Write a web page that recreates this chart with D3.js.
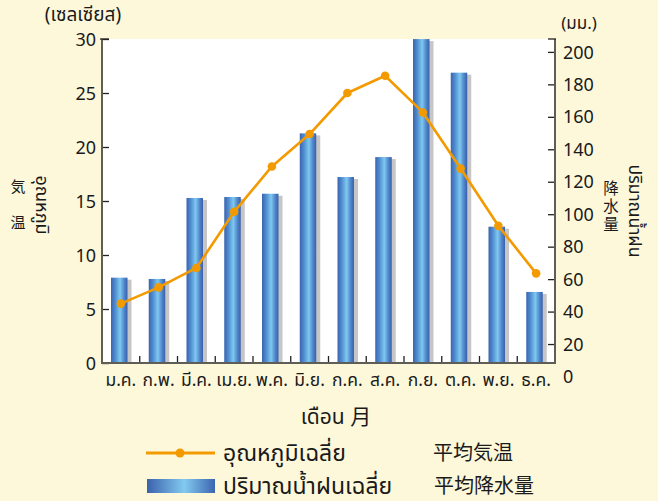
<!DOCTYPE html>
<html><head><meta charset="utf-8">
<script src="https://cdn.jsdelivr.net/npm/d3@7"></script>
<style>
html,body{margin:0;padding:0;background:#fdf8da;}
svg{display:block;}
text{font-family:"Noto Sans","Noto Sans Thai","Noto Sans CJK JP",sans-serif;fill:#1a1a1a;}
.cjk{font-family:"Noto Sans CJK JP",sans-serif;}
.vert{writing-mode:vertical-rl;text-orientation:upright;}
</style>
</head><body>
<svg id="chart" width="658" height="501"></svg>
<script>
const months = ["ม.ค.","ก.พ.","มี.ค.","เม.ย.","พ.ค.","มิ.ย.","ก.ค.","ส.ค.","ก.ย.","ต.ค.","พ.ย.","ธ.ค."];
const temperature = [5.5, 7.0, 8.8, 14.0, 18.2, 21.2, 25.0, 26.6, 23.2, 18.0, 12.7, 8.3];
const rainfall = [60.9, 60.1, 110.0, 110.6, 112.6, 149.8, 122.9, 135.2, 207.9, 187.2, 92.3, 52.1];
const tempTicks = [0, 5, 10, 15, 20, 25, 30];
const rainTicks = [0, 20, 40, 60, 80, 100, 120, 140, 160, 180, 200];

const svg = d3.select("#chart");
const L = 102, R = 555, T = 39, B = 363;
const orange = "#f39a00", axisCol = "#5e5e56";

const x = d3.scaleBand().domain(months).range([L, R]).padding(0);
const yT = d3.scaleLinear().domain([0, 30]).range([B, T]);
const yR = d3.scaleLinear().domain([0, 200]).range([376.5, 51.9]);

// gradient
const defs = svg.append("defs");
const g = defs.append("linearGradient").attr("id","barGrad").attr("x1","0").attr("x2","1").attr("y1","0").attr("y2","0");
g.append("stop").attr("offset","0%").attr("stop-color","#3a64b0");
g.append("stop").attr("offset","25%").attr("stop-color","#4f8ccf");
g.append("stop").attr("offset","55%").attr("stop-color","#7fc8f0");
g.append("stop").attr("offset","80%").attr("stop-color","#4f86cb");
g.append("stop").attr("offset","100%").attr("stop-color","#3a5fac");

// plot background
svg.append("rect").attr("x", L).attr("y", T).attr("width", R - L).attr("height", B - T).attr("fill", "#ffffff");

// bars
const bw = 16.5, boff = 9;
svg.append("g").selectAll("rect").data(rainfall).join("rect")
  .attr("x", (d,i) => x(months[i]) + boff + 4)
  .attr("y", d => Math.max(T, yR(d)) + 2)
  .attr("width", bw)
  .attr("height", d => B - Math.max(T, yR(d)) - 2)
  .attr("fill", "#c6c6c6");
svg.append("g").selectAll("rect").data(rainfall).join("rect")
  .attr("x", (d,i) => x(months[i]) + boff)
  .attr("y", d => Math.max(T, yR(d)))
  .attr("width", bw)
  .attr("height", d => B - Math.max(T, yR(d)))
  .attr("fill", "url(#barGrad)");

// temperature line
const line = d3.line().x((d,i) => x(months[i]) + x.bandwidth()/2).y(d => yT(d));
svg.append("path").datum(temperature).attr("d", line).attr("fill","none").attr("stroke", orange).attr("stroke-width", 2.6).attr("stroke-linejoin","round");
svg.append("g").selectAll("circle").data(temperature).join("circle")
  .attr("cx", (d,i) => x(months[i]) + x.bandwidth()/2)
  .attr("cy", d => yT(d)).attr("r", 4.3).attr("fill", orange);

// left axis
const la = svg.append("g").attr("transform", `translate(${L},0)`)
  .call(d3.axisLeft(yT).tickValues(tempTicks).tickSizeInner(-7).tickSizeOuter(0).tickPadding(6));
la.select(".domain").remove();
la.selectAll(".tick line").attr("stroke", "#222").attr("stroke-width", 1.3);
la.selectAll(".tick text").attr("font-size", 18).attr("fill", "#1a1a1a").attr("dy","0.34em");

// right axis
const ra = svg.append("g").attr("transform", `translate(${R},0)`)
  .call(d3.axisRight(yR).tickValues(rainTicks).tickSizeInner(-7).tickSizeOuter(0).tickPadding(8));
ra.select(".domain").remove();
ra.selectAll(".tick line").attr("stroke", "#222").attr("stroke-width", 1.3)
  .attr("display", d => (yR(d) > B || yR(d) < T) ? "none" : null);
ra.selectAll(".tick text").attr("font-size", 18).attr("fill", "#1a1a1a").attr("dy","0.34em");

// bottom axis: ticks at band boundaries
const bounds = months.slice(1).map(m => x(m));
svg.append("g").selectAll("line").data(bounds).join("line")
  .attr("x1", d => d).attr("x2", d => d).attr("y1", B).attr("y2", B - 7)
  .attr("stroke", "#222").attr("stroke-width", 1.3);
svg.append("g").selectAll("text").data(months).join("text")
  .attr("x", d => x(d) + x.bandwidth()/2).attr("y", 386)
  .attr("text-anchor","middle").attr("font-size", 17.5).text(d => d);

// axis lines
svg.append("line").attr("x1", L).attr("x2", L).attr("y1", T).attr("y2", B + 1).attr("stroke", axisCol).attr("stroke-width", 2);
svg.append("line").attr("x1", R).attr("x2", R).attr("y1", T).attr("y2", B + 1).attr("stroke", axisCol).attr("stroke-width", 2);
svg.append("line").attr("x1", L).attr("x2", R).attr("y1", B).attr("y2", B).attr("stroke", axisCol).attr("stroke-width", 2);
svg.append("line").attr("x1", L - 2).attr("x2", L + 7).attr("y1", T).attr("y2", T).attr("stroke", "#222").attr("stroke-width", 1.3);
svg.append("line").attr("x1", R - 7).attr("x2", R + 1).attr("y1", T).attr("y2", T).attr("stroke", "#222").attr("stroke-width", 1.3);

// unit labels
svg.append("text").attr("x", 83).attr("y", 21).attr("text-anchor","middle").attr("font-size", 19).text("(เซลเซียส)");
svg.append("text").attr("x", 579).attr("y", 29).attr("text-anchor","middle").attr("font-size", 17).text("(มม.)");

// left title
svg.append("text").attr("class","cjk vert").attr("x", 18).attr("y", 215).attr("text-anchor","middle")
  .attr("font-size", 15).attr("letter-spacing", 21).text("気温");
svg.append("text").attr("transform","translate(36,205) rotate(90)").attr("text-anchor","middle").attr("font-size", 18).text("อุณหภูมิ");

// right title
svg.append("text").attr("class","cjk vert").attr("x", 611).attr("y", 207.5).attr("text-anchor","middle")
  .attr("font-size", 15.5).attr("letter-spacing", 2.5).text("降水量");
svg.append("text").attr("transform","translate(629,211) rotate(90)").attr("text-anchor","middle").attr("font-size", 17.5).text("ปริมาณน้ำฝน");

// x title
svg.append("text").attr("x", 336).attr("y", 424).attr("text-anchor","middle").attr("font-size", 21).text("เดือน 月");

// legend
svg.append("line").attr("x1", 146).attr("x2", 215).attr("y1", 453).attr("y2", 453).attr("stroke", orange).attr("stroke-width", 3);
svg.append("circle").attr("cx", 180).attr("cy", 453).attr("r", 4.5).attr("fill", orange);
svg.append("text").attr("x", 223).attr("y", 461).attr("font-size", 23).text("อุณหภูมิเฉลี่ย");
svg.append("text").attr("class","cjk").attr("x", 433).attr("y", 460).attr("font-size", 20).text("平均気温");
const lg = defs.append("linearGradient").attr("id","legGrad").attr("x1","0").attr("x2","1").attr("y1","0").attr("y2","0");
lg.append("stop").attr("offset","0%").attr("stop-color","#3a62ac");
lg.append("stop").attr("offset","55%").attr("stop-color","#82caf0");
lg.append("stop").attr("offset","100%").attr("stop-color","#3b65b0");
svg.append("rect").attr("x", 147).attr("y", 479).attr("width", 68).attr("height", 14).attr("fill", "url(#legGrad)");
svg.append("text").attr("x", 223).attr("y", 494).attr("font-size", 23).text("ปริมาณน้ำฝนเฉลี่ย");
svg.append("text").attr("class","cjk").attr("x", 434).attr("y", 493).attr("font-size", 20).text("平均降水量");
</script>
</body></html>
